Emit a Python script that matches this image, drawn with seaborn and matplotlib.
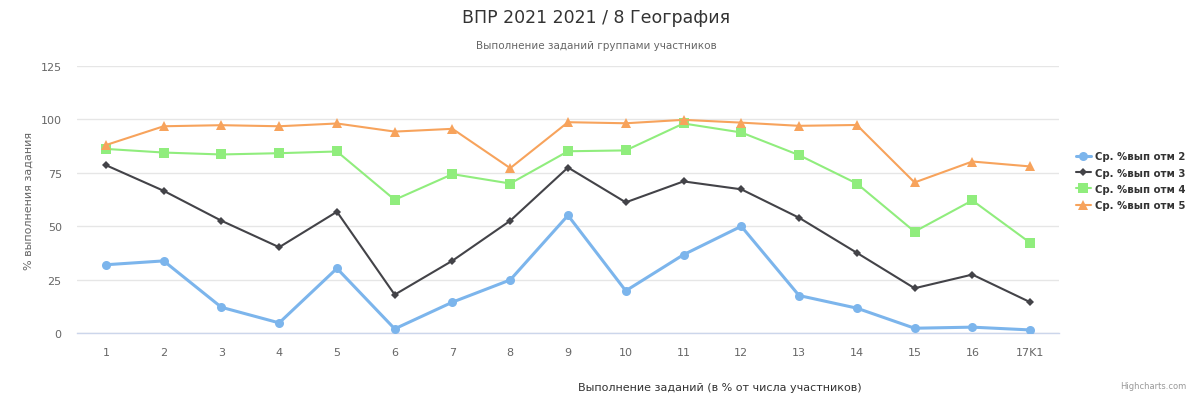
import matplotlib
matplotlib.use("Agg")
import matplotlib.pyplot as plt
import seaborn as sns
import pandas as pd
import numpy as np

tasks = ["1", "2", "3", "4", "5", "6", "7", "8", "9", "10", "11", "12",
         "13", "14", "15", "16", "17K1"]

grade2 = [32.0, 33.8, 12.1, 4.8, 30.3, 2.0, 14.5, 24.9, 55.1, 19.8, 36.7, 50.0,
          17.6, 11.7, 2.3, 2.8, 1.5]
grade3 = [78.6, 66.6, 52.6, 40.2, 56.8, 18.0, 33.9, 52.6, 77.5, 61.2, 71.0, 67.3,
          54.0, 37.6, 21.0, 27.4, 14.5]
grade4 = [86.2, 84.5, 83.6, 84.2, 85.0, 62.4, 74.4, 70.0, 85.1, 85.5, 98.1, 93.9,
          83.3, 70.0, 47.5, 62.1, 42.3]
grade5 = [88.0, 96.8, 97.3, 96.8, 98.1, 94.3, 95.6, 77.2, 98.7, 98.2, 99.8, 98.5,
          97.0, 97.4, 70.5, 80.3, 78.0]

series_names = ["Ср. %вып отм 2", "Ср. %вып отм 3", "Ср. %вып отм 4", "Ср. %вып отм 5"]
y_ticks = [0, 25, 50, 75, 100, 125]

colors = ["#7cb5ec", "#434348", "#90ed7d", "#f7a35c"]
markers = ["o", "D", "s", "^"]
marker_sizes = [6.5, 4.5, 6.5, 6.5]
line_widths = [2.2, 1.5, 1.5, 1.5]

frames = []
for name, vals in zip(series_names, [grade2, grade3, grade4, grade5]):
    frames.append(pd.DataFrame({"pos": np.arange(len(tasks)), "task": tasks,
                                "value": vals, "series": name}))
df = pd.concat(frames, ignore_index=True)

sns.set_theme(style="white")
plt.rcParams["font.family"] = ["DejaVu Sans"]

fig = plt.figure(figsize=(11.92, 4.06), dpi=100)
ax = fig.add_axes([0.0646, 0.177, 0.8238, 0.658])

for name, c, m, ms, lw in zip(series_names, colors, markers, marker_sizes, line_widths):
    sub = df[df["series"] == name]
    sns.lineplot(data=sub, x="pos", y="value", ax=ax, color=c, linewidth=lw,
                 marker=m, markersize=ms, markeredgewidth=0, sort=False,
                 label=name, zorder=3)

ax.set_xlim(-0.5, len(tasks) - 0.5)
ax.set_ylim(0, 125)
ax.set_yticks(y_ticks)
ax.set_xticks(np.arange(len(tasks)))
ax.set_xticklabels(tasks)
ax.tick_params(axis="both", length=0, labelsize=8, colors="#666666", pad=10)
ax.tick_params(axis="y", pad=11)

ax.grid(axis="y", color="#e6e6e6", linewidth=1)
ax.grid(axis="x", visible=False)
ax.set_axisbelow(True)
for side in ["top", "right", "left"]:
    ax.spines[side].set_visible(False)
ax.spines["bottom"].set_color("#ccd6eb")
ax.spines["bottom"].set_linewidth(1)

ax.set_xlabel("")
ax.set_ylabel("% выполнения задания", fontsize=8, color="#666666", labelpad=5)

fig.text(0.5, 0.955, "ВПР 2021 2021 / 8 География", ha="center", va="center",
         fontsize=12.5, color="#333333")
fig.text(0.5, 0.887, "Выполнение заданий группами участников", ha="center",
         va="center", fontsize=7.5, color="#666666")
fig.text(0.604, 0.045, "Выполнение заданий (в % от числа участников)", ha="center",
         va="center", fontsize=8, color="#333333")
fig.text(0.995, 0.047, "Highcharts.com", ha="right", va="center", fontsize=6,
         color="#999999")

leg = ax.legend(loc="center left", bbox_to_anchor=(0.903, 0.552),
                bbox_transform=fig.transFigure, frameon=False, fontsize=7.3,
                handlelength=1.4, handletextpad=0.4, labelspacing=0.62,
                borderaxespad=0, borderpad=0)
for t in leg.get_texts():
    t.set_color("#333333")
    t.set_fontweight("bold")

fig.savefig("out.png", dpi=100, facecolor="white")
